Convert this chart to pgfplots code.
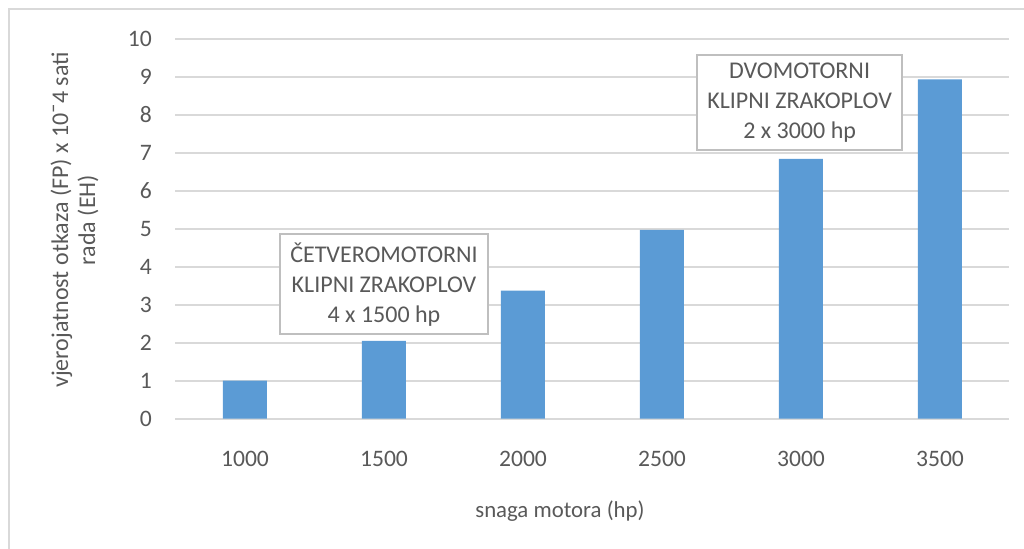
\documentclass[border=0pt]{standalone}
\usepackage{pgfplots}
\pgfplotsset{compat=1.18}
\usepackage{fontspec}
\setmainfont{Carlito}
\definecolor{barblue}{HTML}{5B9BD5}
\definecolor{gridgray}{HTML}{D9D9D9}
\definecolor{txtgray}{HTML}{595959}
\definecolor{boxgray}{HTML}{BFBFBF}
\begin{document}
\begin{tikzpicture}[x=0.5pt,y=0.5pt]
\fontsize{11}{13}\selectfont
% outer chart border (top and left visible)
\draw[gridgray, line width=1pt] (9,-10) -- (9,540) -- (1030,540);
\begin{axis}[
  at={(87.75pt,65.15pt)}, anchor=south west,
  scale only axis, width=417pt, height=190pt,
  xmin=-0.5, xmax=5.5, ymin=0, ymax=10,
  xtick={0,1,2,3,4,5},
  xticklabels={1000,1500,2000,2500,3000,3500},
  ytick={0,1,...,10},
  axis line style={draw=none},
  ymajorgrids, grid style={gridgray, line width=0.9pt},
  major tick length=0pt,
  tick style={draw=none},
  tick label style={font=\fontsize{11.8}{13}\selectfont, text=txtgray},
  /pgf/number format/assume math mode=true,
  yticklabel style={anchor=east, xshift=-8pt},
  xticklabel style={anchor=center, yshift=-20pt},
  xlabel={snaga motora (hp)},
  xlabel style={at={(axis description cs:0.461,0)}, anchor=center, yshift=-46pt, font=\fontsize{11.4}{14}\selectfont, text=txtgray},
  ylabel={vjerojatnost otkaza (FP) x 10¯4 sati\\rada (EH)},
  ylabel style={at={(axis description cs:-0.121,0.523)}, anchor=center, rotate=0, align=center, font=\fontsize{12}{13.5}\selectfont, text=txtgray},
  clip=false,
]
\addplot[ybar, bar width=22pt, fill=barblue, draw=none] coordinates {
(0,1.00) (1,2.05) (2,3.37) (3,4.97) (4,6.84) (5,8.93)
};
\node[draw=boxgray, line width=1pt, fill=white, align=center, text=txtgray,
  font=\fontsize{12}{15}\selectfont, inner xsep=5pt, inner ysep=4pt]
  at (axis cs:1,3.54) {ČETVEROMOTORNI\\KLIPNI ZRAKOPLOV\\4 x 1500 hp};
\node[draw=boxgray, line width=1pt, fill=white, align=center, text=txtgray,
  font=\fontsize{12}{15}\selectfont, inner xsep=5pt, inner ysep=4pt]
  at (axis cs:3.99,8.32) {DVOMOTORNI\\KLIPNI ZRAKOPLOV\\2 x 3000 hp};
\end{axis}
\pgfresetboundingbox
\path[use as bounding box] (0,0) rectangle (1024,549);
\end{tikzpicture}
\end{document}
